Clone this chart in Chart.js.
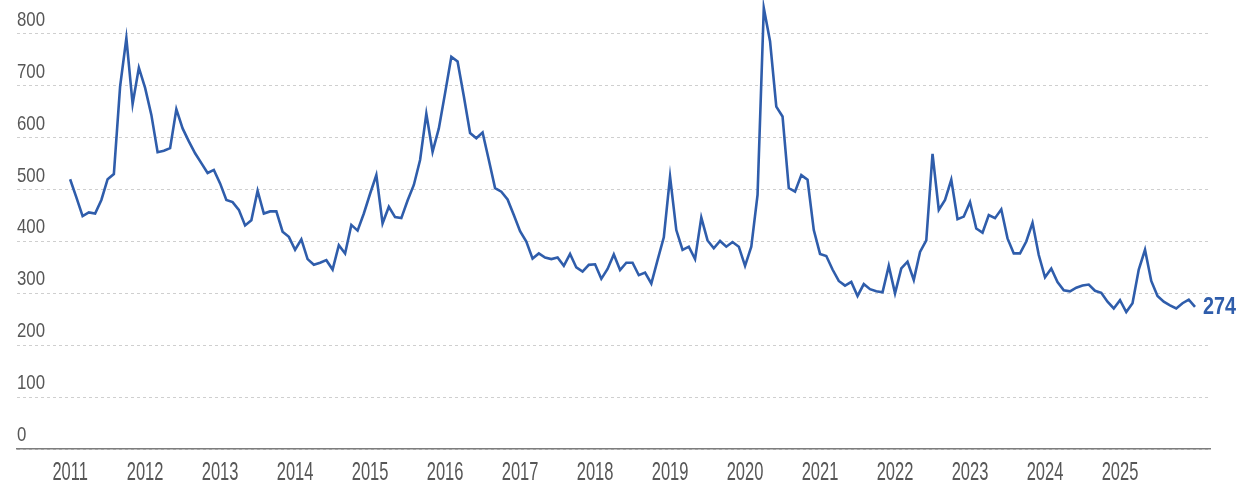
<!DOCTYPE html>
<html>
<head>
<meta charset="utf-8">
<script src="https://cdn.jsdelivr.net/npm/chart.js@4/dist/chart.umd.min.js"></script>
<style>
  html, body { margin: 0; padding: 0; background: #ffffff; }
  #wrap { position: relative; width: 1241px; height: 485px; }
</style>
</head>
<body>
<div id="wrap"><canvas id="c" width="1241" height="485"></canvas></div>
<script>
// Year tick labels (placed at January of each year)
const yearLabels = ['2011','2012','2013','2014','2015','2016','2017','2018','2019','2020','2021','2022','2023','2024','2025'];
// Y-axis tick values
const yTicks = [0, 100, 200, 300, 400, 500, 600, 700, 800];
// Monthly series values, Jan 2011 onward
const values2011_2013 = [520,485,449,456,454,480,520,530,699,792,665,735,
                         696,644,572,575,580,655,618,593,570,551,532,538,
                         512,480,476,461,431,441,498,454,458,458,419,409];
const values2014_2016 = [384,404,366,355,359,364,346,393,377,432,421,454,
                         492,528,435,467,447,445,479,509,557,646,573,618,
                         686,756,747,680,609,599,610,557,503,496,481,451];
const values2017_2019 = [420,400,367,377,369,366,369,353,376,350,342,355,
                         356,328,347,375,345,359,359,335,340,319,364,408,
                         525,422,384,390,366,446,402,387,401,390,399,390];
const values2020_2022 = [353,390,490,850,786,660,641,503,496,528,519,422,
                         376,372,346,324,315,322,295,318,308,304,302,353,
                         300,348,361,326,380,402,569,461,480,519,443,448];
const values2023_2025 = [476,425,417,451,445,462,406,377,377,400,436,374,
                         331,348,322,306,304,311,315,317,305,301,284,271,
                         287,264,281,346,384,324,295,284,277,271,281,288,
                         274];
const lastLabel = '274';

const values = [].concat(values2011_2013, values2014_2016, values2017_2019, values2020_2022, values2023_2025);
const points = values.map((v, i) => ({ x: i, y: v }));

const FONT = "'Liberation Sans', Arial, sans-serif";
const LINE_COLOR = '#2f5dab';
const TEXT_COLOR = '#575757';

function drawNarrow(ctx, text, x, y, font, sx, align) {
  ctx.save();
  ctx.translate(x, y);
  ctx.scale(sx, 1);
  ctx.font = font;
  ctx.textAlign = align;
  ctx.textBaseline = 'alphabetic';
  ctx.fillText(text, 0, 0);
  ctx.restore();
}

const labelsPlugin = {
  id: 'narrowLabels',
  afterDraw(chart) {
    const ctx = chart.ctx;
    const xs = chart.scales.x, ys = chart.scales.y;
    ctx.save();
    ctx.fillStyle = TEXT_COLOR;
    xs.ticks.forEach((t) => {
      const lbl = yearLabels[Math.round(t.value / 12)];
      drawNarrow(ctx, lbl, xs.getPixelForValue(t.value), 480, '25px ' + FONT, 0.66, 'center');
    });
    ys.ticks.forEach((t) => {
      drawNarrow(ctx, String(t.value), chart.chartArea.left, ys.getPixelForValue(t.value) - 8, '21px ' + FONT, 0.80, 'left');
    });
    const meta = chart.getDatasetMeta(0);
    const pt = meta.data[meta.data.length - 1];
    ctx.fillStyle = LINE_COLOR;
    drawNarrow(ctx, lastLabel, pt.x + 8, pt.y + 7.5, 'bold 23px ' + FONT, 0.86, 'left');
    ctx.restore();
  }
};

new Chart(document.getElementById('c'), {
  type: 'line',
  data: {
    datasets: [{
      data: points,
      borderColor: LINE_COLOR,
      borderWidth: 2.6,
      pointRadius: 0,
      tension: 0,
      fill: false,
      clip: false
    }]
  },
  options: {
    responsive: false,
    animation: false,
    events: [],
    layout: { padding: { left: 17, right: 31, top: 0, bottom: 0 } },
    plugins: { legend: { display: false }, tooltip: { enabled: false } },
    scales: {
      x: {
        type: 'linear',
        min: -8.5,
        max: 182.4,
        afterBuildTicks: (s) => { s.ticks = yearLabels.map((_, i) => ({ value: i * 12 })); },
        afterFit: (s) => { s.height = 36; },
        grid: { display: false, drawTicks: false },
        border: { display: true, color: '#7d7d7d', width: 1.6 },
        ticks: { display: false }
      },
      y: {
        type: 'linear',
        min: 0,
        max: 865.5,
        afterBuildTicks: (s) => { s.ticks = yTicks.map(v => ({ value: v })); },
        afterFit: (s) => { s.width = 0; },
        grid: { display: true, drawTicks: false, color: '#cfcfcf', lineWidth: 1 },
        border: { display: false, dash: [3, 3] },
        ticks: { display: false }
      }
    }
  },
  plugins: [labelsPlugin]
});
</script>
</body>
</html>
